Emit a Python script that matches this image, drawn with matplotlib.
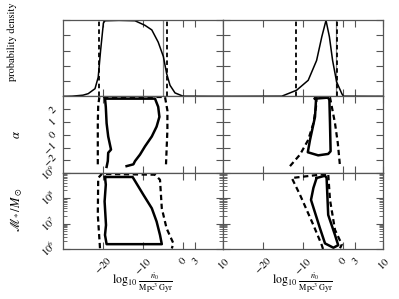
import numpy as np
import matplotlib
matplotlib.use("Agg")
import matplotlib.pyplot as plt

plt.rcParams['font.family'] = ['STIXGeneral', 'DejaVu Serif']
plt.rcParams['mathtext.fontset'] = 'stix'

# ---------------- data ----------------
x_ticks = [-20, -10, 0, 3, 10]
x_ticklabels = ['$-20$', '$-10$', '$0$', '$3$', '$10$']
alpha_ticks = [-2, -1, 0, 1, 2]
alpha_ticklabels = ['$-2$', '$-1$', '$0$', '$1$', '$2$']
mass_ticks = [1e6, 1e7, 1e8, 1e9]
mass_ticklabels = ['$10^6$', '$10^7$', '$10^8$', '$10^9$']

# top-left density
pd1_x = [-30, -29, -27.7, -25, -23.7, -22, -21.2, -20.6, -19.9, -19.5, -16, -12, -9.5, -7.8, -6.2, -4.9, -4.1, -3.25, -2, 0, 10]
pd1_y = [0, 0, 0.002, 0.015, 0.035, 0.10, 0.25, 0.60, 0.96, 0.99, 0.995, 0.99, 0.93, 0.87, 0.71, 0.52, 0.30, 0.145, 0.045, 0.002, 0]
pd1_dashed = [-20.9, -4.1]
pd1_dotted = [-4.9]

# top-right density
pd2_x = [-30, -15.3, -11.6, -8.7, -6.6, -5.3, -4.25, -3.4, -2.6, -1.6, -0.3, 0.1, 10]
pd2_y = [0, 0.002, 0.08, 0.21, 0.47, 0.78, 0.995, 0.78, 0.47, 0.19, 0.035, 0.002, 0]
pd2_dashed = [-11.75, -1.5]
pd2_dotted = [-1.8]

# middle-left (alpha) contours
a1_solid_x = [-19.1, -18.8, -18.7, -18.0, -18.7, -19.1, -19.3, -19.5, -7.0, -6.2, -5.9, -6.6, -7.8, -9.5, -10.75, -12.0, -12.4, -14.1]
a1_solid_y = [-2.5, -2.05, -1.4, -1.15, -0.13, 0.9, 2.18, 2.82, 2.82, 2.18, 1.4, 0.64, -0.13, -0.9, -1.54, -2.05, -2.3, -2.44]
a1_dash_x = [-21.3, -21.3, -21.2, -20.9, -4.5, -3.9, -3.9, -4.1, -4.25]
a1_dash_y = [-2.3, 0.9, 2.3, 2.95, 2.95, 1.9, 0.4, -1.15, -2.3]

# middle-right (alpha) contours
a2_solid_x = [-7.0, -3.7, -3.4, -3.25, -3.1, -3.7, -6.2, -8.8, -8.25, -7.0, -6.75, -7.0]
a2_solid_y = [2.82, 2.9, 2.7, 0.9, -1.28, -1.49, -1.6, -1.36, -0.4, 1.4, 2.7, 2.82]
a2_dash_x = [-13.25, -10.75, -8.7, -7.4, -6.75, -6.6, -3.25, -2.0, -1.3, -0.75]
a2_dash_y = [-2.44, -1.54, -0.4, 0.9, 2.18, 2.92, 2.92, 0.9, -0.64, -2.44]

# bottom-left (mass) contours, log10 mass
m1_solid_x = [-19.5, -12.6, -9.9, -7.8, -6.6, -5.75, -5.3, -19.1, -19.5, -19.25, -19.6, -19.3, -19.5]
m1_solid_y = [8.83, 8.83, 8.13, 7.6, 7.08, 6.55, 6.19, 6.19, 6.55, 6.94, 7.87, 8.53, 8.83]
m1_dash_x = [-20.75, -21.3, -21.2, -20.3, -7.0, -5.75, -5.3, -4.1, -2.4, -2.8]
m1_dash_y = [6.03, 7.34, 8.79, 8.95, 8.92, 8.72, 7.6, 6.81, 6.22, 6.02]

# bottom-right (mass) contours
m2_solid_x = [-6.6, -4.5, -4.1, -3.7, -2.0, -1.2, -2.4, -4.5, -5.75, -8.0, -7.4, -6.6]
m2_solid_y = [8.79, 8.88, 8.79, 7.34, 6.55, 6.15, 6.05, 6.22, 6.81, 7.93, 8.4, 8.79]
m2_dash_x = [-5.0, -5.3, -7.4, -10.75, -12.8, -3.7, -3.25, -2.0, -0.3, -0.75]
m2_dash_y = [6.0, 6.15, 6.94, 8.13, 8.79, 8.96, 7.93, 6.75, 6.18, 6.03]

# ---------------- figure ----------------
fig = plt.figure(figsize=(3.99, 2.99), dpi=100)
gs = fig.add_gridspec(3, 2, left=63/399, right=383/399, top=1-20/299, bottom=1-249/299,
                      hspace=0, wspace=0)
axes = [[fig.add_subplot(gs[r, c]) for c in range(2)] for r in range(3)]

spine_col = '#555555'
dash_style = (0, (2.4, 1.6))
for r in range(3):
    for c in range(2):
        ax = axes[r][c]
        ax.set_xlim(-30, 10)
        ax.set_xticks(x_ticks)
        for s in ax.spines.values():
            s.set_color(spine_col)
            s.set_linewidth(0.9)
        ax.tick_params(which='both', direction='in', top=True, right=True, colors=spine_col,
                       labelcolor='black', labelsize=7.5)
        ax.tick_params(axis='x', pad=4)
        ax.tick_params(axis='y', pad=3)
        ax.tick_params(which='major', length=5, width=0.8)
        ax.tick_params(which='minor', length=3, width=0.6)
        if r < 2:
            ax.set_xticklabels([])
        else:
            ax.set_xticklabels(x_ticklabels, rotation=45, ha='center')

label_lefts = [112/399, 272/399]
for xl in label_lefts:
    fig.text(xl, 1-283/299, r'$\log_{10}\,\frac{\dot{n}_0}{\mathrm{Mpc}^3\,\mathrm{Gyr}}$',
             ha='left', va='center', fontsize=8.5)

# top row
for c, (px, py, dl, dt) in enumerate([(pd1_x, pd1_y, pd1_dashed, pd1_dotted),
                                     (pd2_x, pd2_y, pd2_dashed, pd2_dotted)]):
    ax = axes[0][c]
    ax.plot(px, py, color='black', lw=1.1)
    for v in dl:
        ax.axvline(v, color='black', lw=1.3, ls=(0, (2.5, 1.8)))
    for v in dt:
        ax.axvline(v, color='black', lw=0.9, ls=(0, (0.8, 0.8)))
    ax.set_ylim(0, 1.0)
    ax.set_yticks([0, 0.2, 0.4, 0.6, 0.8, 1.0])
    ax.set_yticklabels([])

# middle row
for c, (sx, sy, dx, dy) in enumerate([(a1_solid_x, a1_solid_y, a1_dash_x, a1_dash_y),
                                     (a2_solid_x, a2_solid_y, a2_dash_x, a2_dash_y)]):
    ax = axes[1][c]
    ax.plot(sx, sy, color='black', lw=1.8, solid_joinstyle='round')
    ax.plot(dx, dy, color='black', lw=1.6, ls=dash_style)
    ax.set_ylim(-2.95, 3.0)
    ax.set_yticks(alpha_ticks)
    if c == 0:
        ax.set_yticklabels(alpha_ticklabels, rotation=45, va='center')
    else:
        ax.set_yticklabels([])

# bottom row
for c, (sx, sy, dx, dy) in enumerate([(m1_solid_x, m1_solid_y, m1_dash_x, m1_dash_y),
                                     (m2_solid_x, m2_solid_y, m2_dash_x, m2_dash_y)]):
    ax = axes[2][c]
    ax.plot(sx, 10**np.array(sy), color='black', lw=1.8, solid_joinstyle='round')
    ax.plot(dx, 10**np.array(dy), color='black', lw=1.6, ls=dash_style)
    ax.set_yscale('log')
    ax.set_ylim(1e6, 1e9)
    ax.set_yticks(mass_ticks)
    ax.yaxis.set_minor_locator(matplotlib.ticker.LogLocator(base=10, subs=np.arange(2, 10)))
    ax.yaxis.set_minor_formatter(matplotlib.ticker.NullFormatter())
    if c == 0:
        ax.set_yticklabels(mass_ticklabels, rotation=45, va='center')
    else:
        ax.set_yticklabels([])

fig.text(12/399, 1-42/299, 'probability density', rotation=90, ha='center', va='center', fontsize=7.5)
fig.text(17/399, 1-135/299, r'$\alpha$', rotation=90, ha='center', va='center', fontsize=9)
fig.text(17/399, 1-210/299, r'$\mathscr{M}_*/M_\odot$', rotation=90, ha='center', va='center', fontsize=9)

fig.savefig('out.png', dpi=100)
